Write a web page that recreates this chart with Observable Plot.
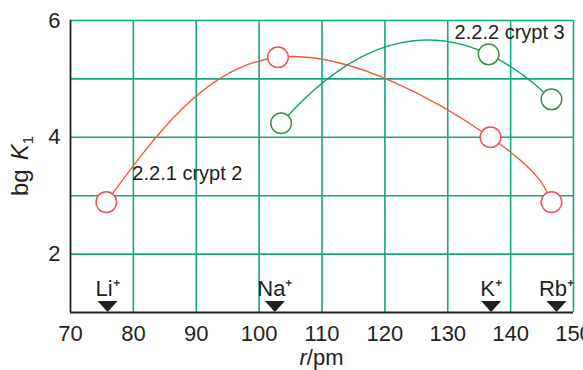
<!DOCTYPE html>
<html>
<head>
<meta charset="utf-8">
<script src="https://cdn.jsdelivr.net/npm/d3@7"></script>
<script src="https://cdn.jsdelivr.net/npm/@observablehq/plot@0.6"></script>
<style>
  html, body { margin: 0; padding: 0; background: #fff; overflow: hidden; }
</style>
</head>
<body>
<div id="chart"></div>
<script>
// ---- data ----
const ionNames = ["Li⁺", "Na⁺", "K⁺", "Rb⁺"];
const ionRadius = [75.9, 102.5, 136.9, 147.3];
const crypt2Radius = [75.7, 103.0, 136.8, 146.5];
const crypt2LogK = [2.89, 5.37, 4.00, 2.89];
const crypt3Radius = [103.5, 136.5, 146.5];
const crypt3LogK = [4.24, 5.42, 4.65];
const seriesNames = ["2.2.1 crypt 2", "2.2.2 crypt 3"];
const xTicks = [70, 80, 90, 100, 110, 120, 130, 140, 150];
const yTicks = [2, 4, 6];
const yGrid = [2, 3, 4, 5, 6];
const xDomain = [70, 150];
const yDomain = [1, 6];

// ---- tables ----
const ions = ionNames.map((name, i) => ({name, r: ionRadius[i]}));
const crypt2 = crypt2Radius.map((r, i) => ({r, k: crypt2LogK[i]}));
const crypt3 = crypt3Radius.map((r, i) => ({r, k: crypt3LogK[i]}));

const C = {
  grid: "#14a882",
  red: "#f15a40",
  redDot: "#e9505a",
  green: "#10a07c",
  greenDot: "#3f8f45",
  ink: "#231f20"
};

// polynomial interpolation curve (passes through every point)
function curvePolynomial(context) {
  let pts = [];
  return {
    areaStart() {}, areaEnd() {},
    lineStart() { pts = []; },
    point(x, y) { pts.push([+x, +y]); },
    lineEnd() {
      const n = pts.length;
      if (!n) return;
      const f = (x) => {
        let s = 0;
        for (let i = 0; i < n; i++) {
          let l = 1;
          for (let j = 0; j < n; j++) if (j !== i) l *= (x - pts[j][0]) / (pts[i][0] - pts[j][0]);
          s += l * pts[i][1];
        }
        return s;
      };
      const x0 = pts[0][0], x1 = pts[n - 1][0];
      const steps = Math.max(1, Math.ceil(Math.abs(x1 - x0) / 2));
      context.moveTo(x0, pts[0][1]);
      for (let k = 1; k <= steps; k++) {
        const x = x0 + (x1 - x0) * k / steps;
        context.lineTo(x, f(x));
      }
    }
  };
}

// flat down-pointing triangle with its tip on the anchor
const downTriangle = {
  draw(context) {
    context.moveTo(-10, -11);
    context.lineTo(10, -11);
    context.lineTo(0, 0);
    context.closePath();
  }
};

const plot = Plot.plot({
  width: 583,
  height: 370,
  marginLeft: 70,
  marginRight: 10,
  marginTop: 20,
  marginBottom: 58,
  style: {
    fontFamily: "'Liberation Sans', Arial, Helvetica, sans-serif",
    fontSize: "22px",
    color: C.ink,
    background: "white"
  },
  x: {domain: xDomain, label: null},
  y: {domain: yDomain, label: null},
  marks: [
    Plot.ruleX(xTicks.slice(1), {stroke: C.grid, strokeWidth: 1.6}),
    Plot.ruleY(yGrid, {stroke: C.grid, strokeWidth: 1.6}),
    Plot.ruleX([xDomain[0]], {stroke: C.ink, strokeWidth: 1.8}),
    Plot.ruleY([yDomain[0]], {stroke: C.ink, strokeWidth: 1.8}),
    Plot.line(crypt2, {x: "r", y: "k", curve: "natural", stroke: C.red, strokeWidth: 1.4}),
    Plot.line(crypt3, {x: "r", y: "k", curve: curvePolynomial, stroke: C.green, strokeWidth: 1.4}),
    Plot.dot(crypt2, {x: "r", y: "k", r: 10.3, fill: "white", stroke: C.redDot, strokeWidth: 1.5}),
    Plot.dot(crypt3, {x: "r", y: "k", r: 10.3, fill: "white", stroke: C.greenDot, strokeWidth: 1.5}),
    Plot.dot(ions, {x: "r", y: () => yDomain[0], symbol: downTriangle, fill: C.ink, stroke: null, dy: -0.5}),
    Plot.text(ions, {x: "r", y: () => yDomain[0], text: "name", dy: -17, lineAnchor: "bottom", fontSize: 22, fill: C.ink}),
    Plot.text([crypt2[0]], {x: "r", y: "k", text: () => seriesNames[0], textAnchor: "start", dx: 26, dy: -29, fontSize: 20, fill: C.ink}),
    Plot.text([crypt3[1]], {x: "r", y: "k", text: () => seriesNames[1], textAnchor: "start", dx: -34, dy: -22, fontSize: 20, fill: C.ink}),
    Plot.axisX({ticks: xTicks, tickFormat: (d) => String(d), tickSize: 0, tickPadding: 13, fontSize: 22, label: null, fill: C.ink}),
    Plot.axisY({ticks: yTicks, tickFormat: (d) => String(d), tickSize: 0, tickPadding: 10, fontSize: 22, label: null, fill: C.ink})
  ]
});

document.getElementById("chart").appendChild(plot);

// axis titles with mixed styling
const svg = d3.select(plot);
const [xr0, xr1] = plot.scale("x").range;
const [yr0, yr1] = plot.scale("y").range;
const xt = svg.append("text")
  .attr("x", (xr0 + xr1) / 2)
  .attr("y", 365)
  .attr("text-anchor", "middle")
  .attr("font-size", 22)
  .attr("fill", C.ink);
xt.append("tspan").attr("font-style", "italic").text("r");
xt.append("tspan").text("/pm");

const yt = svg.append("text")
  .attr("transform", `translate(28,${(yr0 + yr1) / 2}) rotate(-90)`)
  .attr("text-anchor", "middle")
  .attr("font-size", 24)
  .attr("fill", C.ink);
yt.append("tspan").text("bg");
yt.append("tspan").attr("dx", 9).attr("font-style", "italic").text("K");
yt.append("tspan").attr("font-size", 15).attr("dy", "0.3em").text("1");
</script>
</body>
</html>
